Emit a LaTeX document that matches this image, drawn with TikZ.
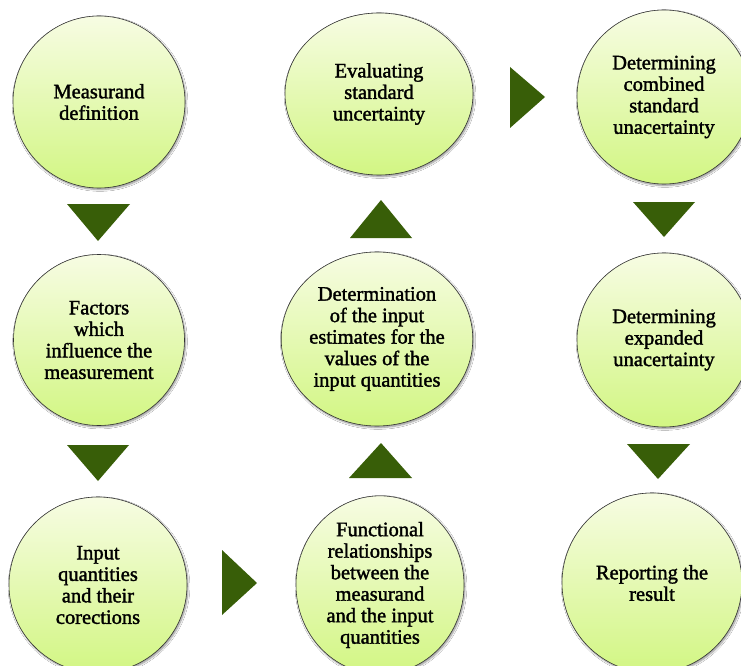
\documentclass[tikz,border=0pt]{standalone}
\usepackage{fontspec}
\setmainfont{Liberation Serif}
\newfontfamily\bubfont{Liberation Serif}[FakeBold=1.6]
\usetikzlibrary{shapes.geometric,shadows.blur}
\definecolor{tritop}{HTML}{385E08}
\definecolor{ctop}{HTML}{F7FCE3}
\definecolor{cbot}{HTML}{D2F683}
\tikzset{
  bubble/.style={ellipse, draw=black!80, line width=0.6pt, inner sep=0pt,
    top color=ctop, bottom color=cbot, align=center,
    font=\bubfont\fontsize{20.5}{21.5}\selectfont,
    blur shadow={shadow xshift=1pt, shadow yshift=-1.5pt, shadow blur steps=6, shadow opacity=45}},
  tri/.style={fill=tritop, draw=none}
}
\begin{document}
\begin{tikzpicture}[x=1pt,y=-1pt]
\clip (0,0) rectangle (741,666);
\useasboundingbox (0,0) rectangle (741,666);
\fill[white] (0,0) rectangle (741,666);
% circles
\node[bubble, minimum width=172pt, minimum height=172pt] (c1) at (99,102) {Measurand\\definition};
\node[bubble, minimum width=188pt, minimum height=162pt] (c2) at (379,94) {Evaluating\\standard\\uncertainty};
\node[bubble, minimum width=174pt, minimum height=174pt] (c3) at (664,97) {Determining\\combined\\standard\\unacertainty};
\node[bubble, minimum width=171pt, minimum height=171pt] (c4) at (99,340) {Factors\\which\\influence the\\measurement};
\node[bubble, minimum width=189pt, minimum height=174pt] (c5) at (377,339) {Determination\\of the input\\estimates for the\\values of the\\input quantities};
\node[bubble, minimum width=174pt, minimum height=174pt] (c6) at (664,340) {Determining\\expanded\\unacertainty};
\node[bubble, minimum width=178pt, minimum height=176pt] (c7) at (98,585) {Input\\quantities\\and their\\corections};
\node[bubble, minimum width=168pt, minimum height=174pt] (c8) at (380,585) {Functional\\relationships\\between the\\measurand\\and the input\\quantities};
\node[bubble, minimum width=180pt, minimum height=180pt] (c9) at (652,583) {Reporting the\\result};
% triangles (flow markers)
\fill[tri] (67,204) -- (130,204) -- (98,241) -- cycle;
\fill[tri] (67,445) -- (129,445) -- (98,481) -- cycle;
\fill[tri] (222,550) -- (222,615) -- (257,583) -- cycle;
\fill[tri] (349,478) -- (412,478) -- (381,443) -- cycle;
\fill[tri] (350,238) -- (412,238) -- (381,200) -- cycle;
\fill[tri] (510,67) -- (510,128) -- (545,97) -- cycle;
\fill[tri] (633,202) -- (695,202) -- (664,237) -- cycle;
\fill[tri] (627,444) -- (690,444) -- (658,479) -- cycle;
\end{tikzpicture}
\end{document}
